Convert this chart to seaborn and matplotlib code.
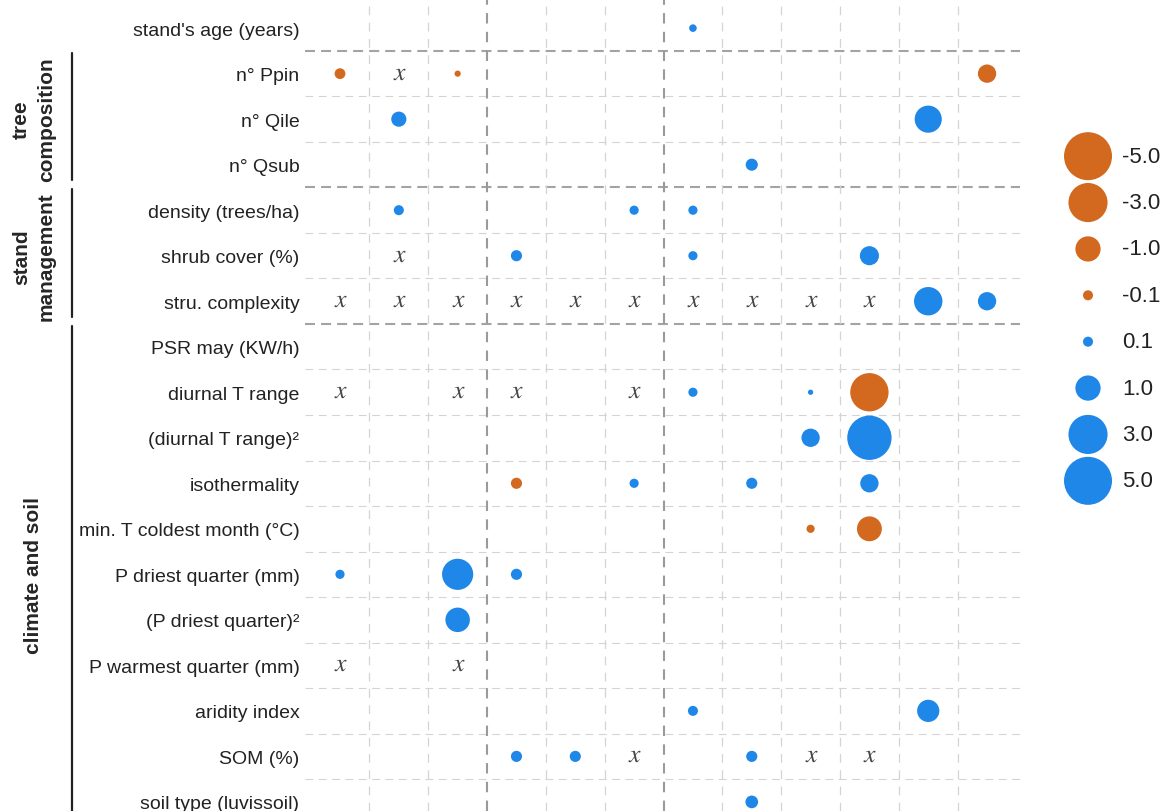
import pandas as pd
import numpy as np
import matplotlib.pyplot as plt
import matplotlib.colors as mcolors
import matplotlib.transforms as mtrans
import seaborn as sns

"""Data"""

# predictors, top to bottom
variables = ["stand's age (years)", "n° Ppin", "n° Qile", "n° Qsub",
             "density (trees/ha)", "shrub cover (%)", "stru. complexity",
             "PSR may (KW/h)", "diurnal T range", "(diurnal T range)²",
             "isothermality", "min. T coldest month (°C)", "P driest quarter (mm)",
             "(P driest quarter)²", "P warmest quarter (mm)", "aridity index",
             "SOM (%)", "soil type (luvissoil)"]
models = list(range(1, 13))

# significant standardized effects (variable, model, effect)
eff_var = ["stand's age (years)",
           "n° Ppin", "n° Ppin", "n° Ppin",
           "n° Qile", "n° Qile",
           "n° Qsub",
           "density (trees/ha)", "density (trees/ha)", "density (trees/ha)",
           "shrub cover (%)", "shrub cover (%)", "shrub cover (%)",
           "stru. complexity", "stru. complexity",
           "diurnal T range", "diurnal T range", "diurnal T range",
           "(diurnal T range)²", "(diurnal T range)²",
           "isothermality", "isothermality", "isothermality", "isothermality",
           "min. T coldest month (°C)", "min. T coldest month (°C)",
           "P driest quarter (mm)", "P driest quarter (mm)", "P driest quarter (mm)",
           "(P driest quarter)²",
           "aridity index", "aridity index",
           "SOM (%)", "SOM (%)", "SOM (%)",
           "soil type (luvissoil)"]
eff_model = [7,
             1, 3, 12,
             2, 11,
             8,
             2, 6, 7,
             4, 7, 10,
             11, 12,
             7, 9, 10,
             9, 10,
             4, 6, 8, 10,
             9, 10,
             1, 3, 4,
             3,
             7, 11,
             4, 5, 8,
             8]
eff_value = [0.05,
             -0.12, -0.03, -0.45,
             0.28, 1.2,
             0.16,
             0.1, 0.08, 0.08,
             0.13, 0.08, 0.5,
             1.35, 0.45,
             0.08, 0.02, -2.85,
             0.45, 4.1,
             -0.13, 0.08, 0.13, 0.45,
             -0.06, -0.97,
             0.08, 1.7, 0.13,
             0.93,
             0.1, 0.73,
             0.13, 0.13, 0.13,
             0.18]

# tested but not significant (drawn as x)
ns_var = ["n° Ppin", "shrub cover (%)"] + ["stru. complexity"] * 10 + \
         ["diurnal T range"] * 4 + ["P warmest quarter (mm)"] * 2 + ["SOM (%)"] * 3
ns_model = [2, 2] + list(range(1, 11)) + [1, 3, 4, 6] + [1, 3] + [6, 9, 10]

# groups of predictors
group_labels = ["tree\ncomposition", "stand\nmanagement", "climate and soil"]
group_first = ["n° Ppin", "density (trees/ha)", "PSR may (KW/h)"]
group_last = ["n° Qsub", "stru. complexity", "soil type (luvissoil)"]
model_breaks = [3, 6]  # heavier line after these models

legend_values = [-5.0, -3.0, -1.0, -0.1, 0.1, 1.0, 3.0, 5.0]

"""Build tables"""

df = pd.DataFrame({'var': eff_var, 'model': eff_model, 'effect': eff_value})
df['row'] = df['var'].map(variables.index)
df['sign'] = np.where(df['effect'] < 0, 'neg', 'pos')
df['mag'] = df['effect'].abs()

ns = pd.DataFrame({'var': ns_var, 'model': ns_model})
ns['row'] = ns['var'].map(variables.index)

leg = pd.DataFrame({'value': legend_values})
leg['row'] = range(len(legend_values))
leg['sign'] = np.where(leg['value'] < 0, 'neg', 'pos')
leg['mag'] = leg['value'].abs()
leg['x'] = 0.0

palette = {'neg': '#d2691e', 'pos': '#1e87e8'}
size_norm = mcolors.PowerNorm(gamma=0.8, vmin=0, vmax=5)
size_range = (0, 1194)

"""Plot"""

sns.set_theme(style='white')
plt.rcParams['font.family'] = ['Liberation Sans', 'DejaVu Sans']
plt.rcParams['mathtext.fontset'] = 'stix'

W, H = 1169, 812
fig = plt.figure(figsize=(W / 100, H / 100), dpi=100)
ax = fig.add_axes([305 / W, 0, 715 / W, 1])
leg_ax = fig.add_axes([1060 / W, 1 - 505 / H, 109 / W, 371 / H])

# grid: light dashed cells, heavier dashes between groups
heavy_rows = [variables.index(v) - 0.5 for v in group_first]
for b in np.arange(0.5, len(variables) - 0.5):
    if b in heavy_rows:
        ax.axhline(b, color='#a3a3a3', lw=1.5, ls=(0, (4.8, 2.9)), zorder=0)
    else:
        ax.axhline(b, color='#d4d4d4', lw=0.8, ls=(0, (7, 5)), zorder=0)
for b in np.arange(1.5, len(models)):
    if b - 0.5 in model_breaks:
        ax.axvline(b, color='#9a9a9a', lw=1.5, ls=(0, (5, 4)), zorder=0)
    else:
        ax.axvline(b, color='#d4d4d4', lw=0.9, ls=(0, (7, 6)), zorder=0)

sns.scatterplot(data=df, x='model', y='row', hue='sign', size='mag',
                palette=palette, sizes=size_range, size_norm=size_norm,
                linewidth=0, alpha=1, legend=False, ax=ax, zorder=3)
sns.scatterplot(data=ns, x='model', y='row', marker='$x$', s=75,
                color='#474747', linewidth=0, legend=False, ax=ax, zorder=3)

ax.set_xlim(0.405, 12.56)
ax.set_ylim(17.2, -0.64)
ax.set_yticks(range(len(variables)))
ax.set_yticklabels(variables, fontsize=14, color='#222222')
ax.set_xticks([])
ax.tick_params(axis='y', length=0, pad=4)
ax.set_xlabel('')
ax.set_ylabel('')
sns.despine(ax=ax, left=True, bottom=True)

# group brackets and labels on the far left
trans = mtrans.blended_transform_factory(fig.transFigure, ax.transData)
for label, first, last in zip(group_labels, group_first, group_last):
    r0 = variables.index(first)
    r1 = variables.index(last)
    ax.plot([72 / W, 72 / W], [r0 - 0.46, min(r1 + 0.34, 17.2)], color='#222222',
            lw=1.6, transform=trans, clip_on=False)
    ax.text(34 / W, (r0 + r1) / 2, label, rotation=90, ha='center', va='center',
            fontsize=15, fontweight='bold', linespacing=1.4, multialignment='center',
            transform=trans)

# size legend
sns.scatterplot(data=leg, x='x', y='row', hue='sign', size='mag',
                palette=palette, sizes=size_range, size_norm=size_norm,
                linewidth=0, alpha=1, legend=False, ax=leg_ax, clip_on=False)
for r, v in zip(leg['row'], legend_values):
    leg_ax.text(0.31, r, f"{v:.1f}", ha='left', va='center', fontsize=16, color='#222222')
leg_ax.set_xlim(-0.257, 0.743)
leg_ax.set_ylim(7.5, -0.5)
leg_ax.axis('off')

fig.savefig('out.png', dpi=100)
